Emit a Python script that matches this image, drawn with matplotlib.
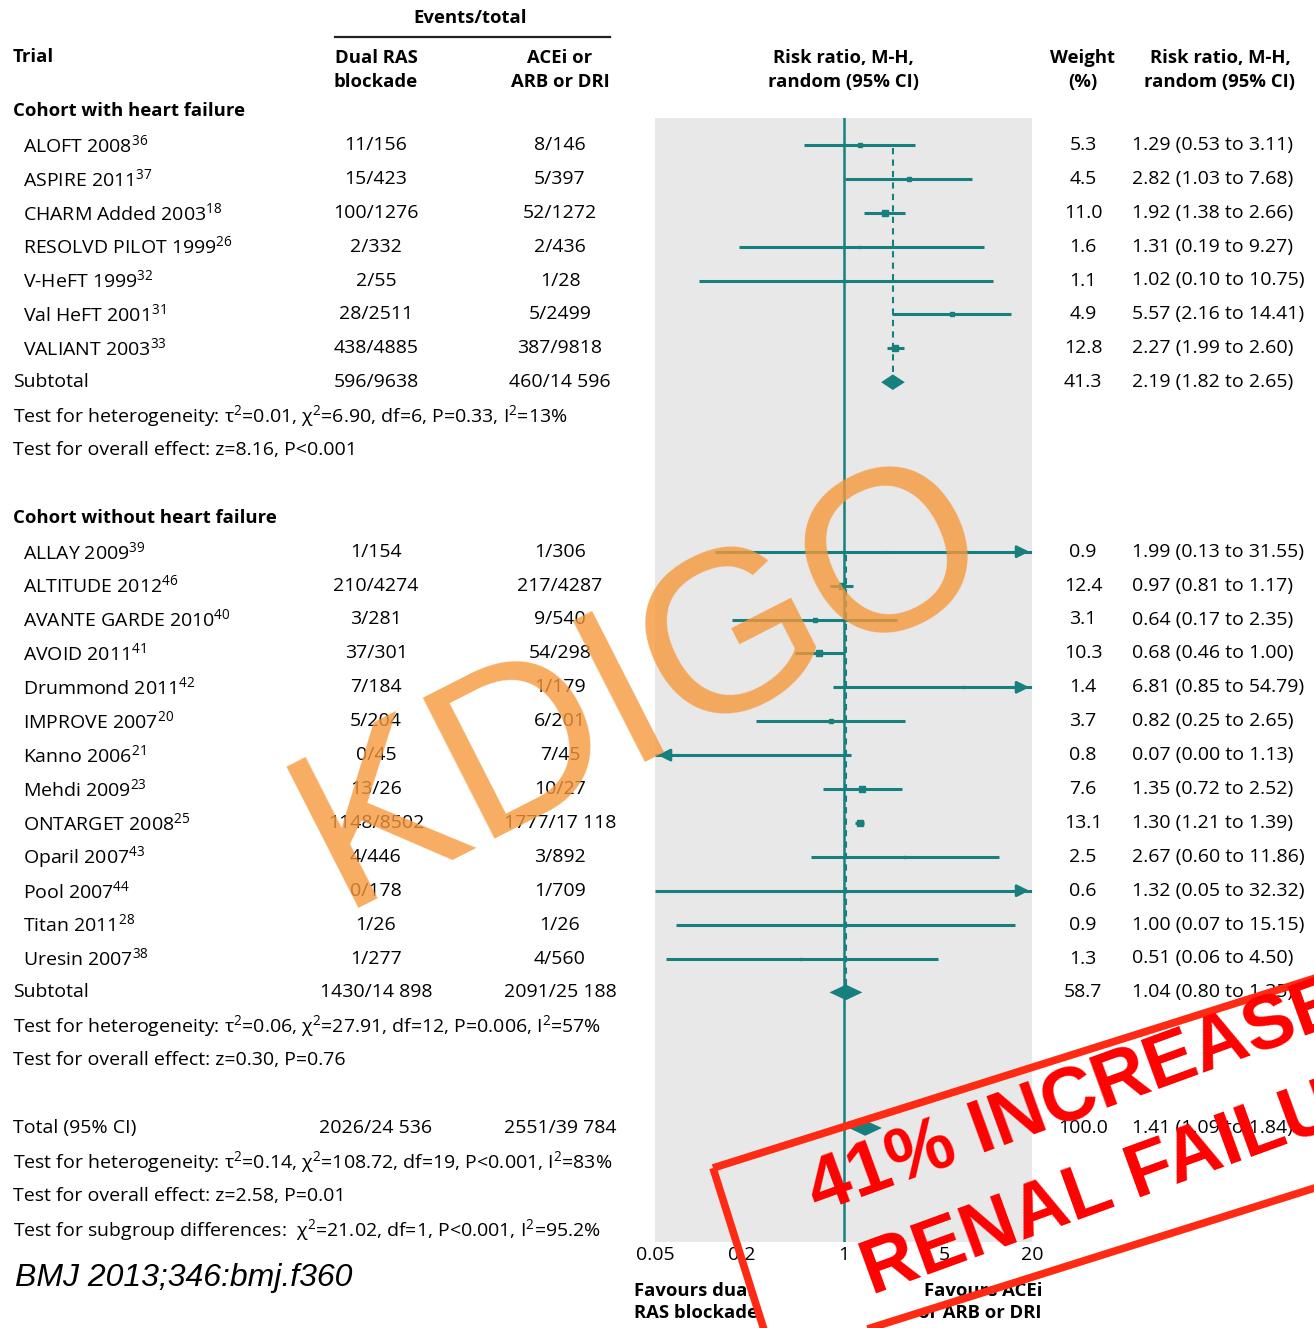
import numpy as np
import matplotlib
matplotlib.use("Agg")
import matplotlib.pyplot as plt
from matplotlib.patches import Rectangle

plt.rcParams['font.family'] = ['Open Sans', 'DejaVu Sans']
plt.rcParams['mathtext.fontset'] = 'custom'
plt.rcParams['mathtext.rm'] = 'Open Sans'
plt.rcParams['mathtext.it'] = 'Open Sans:italic'

# ---- data ----
hf_names = ["ALOFT 2008", "ASPIRE 2011", "CHARM Added 2003", "RESOLVD PILOT 1999",
            "V-HeFT 1999", "Val HeFT 2001", "VALIANT 2003"]
hf_refs = ["36", "37", "18", "26", "32", "31", "33"]
hf_dual = ["11/156", "15/423", "100/1276", "2/332", "2/55", "28/2511", "438/4885"]
hf_ctrl = ["8/146", "5/397", "52/1272", "2/436", "1/28", "5/2499", "387/9818"]
hf_w = [5.3, 4.5, 11.0, 1.6, 1.1, 4.9, 12.8]
hf_rr = [1.29, 2.82, 1.92, 1.31, 1.02, 5.57, 2.27]
hf_lo = [0.53, 1.03, 1.38, 0.19, 0.10, 2.16, 1.99]
hf_hi = [3.11, 7.68, 2.66, 9.27, 10.75, 14.41, 2.60]

nhf_names = ["ALLAY 2009", "ALTITUDE 2012", "AVANTE GARDE 2010", "AVOID 2011",
             "Drummond 2011", "IMPROVE 2007", "Kanno 2006", "Mehdi 2009",
             "ONTARGET 2008", "Oparil 2007", "Pool 2007", "Titan 2011", "Uresin 2007"]
nhf_refs = ["39", "46", "40", "41", "42", "20", "21", "23", "25", "43", "44", "28", "38"]
nhf_dual = ["1/154", "210/4274", "3/281", "37/301", "7/184", "5/204", "0/45", "13/26",
            "1148/8502", "4/446", "0/178", "1/26", "1/277"]
nhf_ctrl = ["1/306", "217/4287", "9/540", "54/298", "1/179", "6/201", "7/45", "10/27",
            "1777/17 118", "3/892", "1/709", "1/26", "4/560"]
nhf_w = [0.9, 12.4, 3.1, 10.3, 1.4, 3.7, 0.8, 7.6, 13.1, 2.5, 0.6, 0.9, 1.3]
nhf_rr = [1.99, 0.97, 0.64, 0.68, 6.81, 0.82, 0.07, 1.35, 1.30, 2.67, 1.32, 1.00, 0.51]
nhf_lo = [0.13, 0.81, 0.17, 0.46, 0.85, 0.25, 0.00, 0.72, 1.21, 0.60, 0.05, 0.07, 0.06]
nhf_hi = [31.55, 1.17, 2.35, 1.00, 54.79, 2.65, 1.13, 2.52, 1.39, 11.86, 32.32, 15.15, 4.50]

# subtotal / total: label, dual, control, weight, rr, lo, hi
summ_labels = ["Subtotal", "Subtotal", "Total (95% CI)"]
summ_dual = ["596/9638", "1430/14 898", "2026/24 536"]
summ_ctrl = ["460/14 596", "2091/25 188", "2551/39 784"]
summ_w = [41.3, 58.7, 100.0]
summ_rr = [2.19, 1.04, 1.41]
summ_lo = [1.82, 0.80, 1.09]
summ_hi = [2.65, 1.35, 1.84]

hf_tests = ["Test for heterogeneity: τ$^{2}$=0.01, χ$^{2}$=6.90, df=6, P=0.33, I$^{2}$=13%",
            "Test for overall effect: z=8.16, P<0.001"]
nhf_tests = ["Test for heterogeneity: τ$^{2}$=0.06, χ$^{2}$=27.91, df=12, P=0.006, I$^{2}$=57%",
             "Test for overall effect: z=0.30, P=0.76"]
tot_tests = ["Test for heterogeneity: τ$^{2}$=0.14, χ$^{2}$=108.72, df=19, P<0.001, I$^{2}$=83%",
             "Test for overall effect: z=2.58, P=0.01",
             "Test for subgroup differences:  χ$^{2}$=21.02, df=1, P<0.001, I$^{2}$=95.2%"]
xticks = [0.05, 0.2, 1, 5, 20]

# ---- layout (pixels) ----
W, H = 1314, 1328
ROW0, DY = 111, 33.9
TEAL = "#17807f"
FS = 14      # regular text
FSB = 13.3   # bold headers

fig = plt.figure(figsize=(W / 100, H / 100), dpi=100)
bg = fig.add_axes([0, 0, 1, 1])
bg.set_xlim(0, W); bg.set_ylim(H, 0); bg.axis("off")

def ry(r):
    return ROW0 + DY * r

# forest axes
top_px, bot_px, l_px, r_px = 118, 1242, 655, 1032
ax = fig.add_axes([l_px / W, 1 - bot_px / H, (r_px - l_px) / W, (bot_px - top_px) / H])
ax.set_facecolor("#e8e8e8")
ax.set_xscale("log")
ax.set_xlim(xticks[0], xticks[-1])
ax.set_ylim((bot_px - ROW0) / DY, (top_px - ROW0) / DY)
for s in ax.spines.values():
    s.set_visible(False)
ax.set_yticks([])
ax.set_xticks(xticks)
ax.set_xticklabels(["0.05", "0.2", "1", "5", "20"])
ax.xaxis.set_minor_locator(matplotlib.ticker.NullLocator())
ax.tick_params(axis="x", length=0, labelsize=FS, pad=3)
ax.axvline(1, color=TEAL, lw=1.8, zorder=2)

def draw_study(row, rr, lo, hi, w):
    xmin, xmax = xticks[0], xticks[-1]
    l = max(lo, xmin) if lo > 0 else xmin
    h = min(hi, xmax)
    ax.plot([l, h], [row, row], color=TEAL, lw=2.2, solid_capstyle="butt", zorder=3)
    if hi > xmax:
        ax.annotate("", xy=(xmax, row), xytext=(xmax * 0.8, row),
                    arrowprops=dict(arrowstyle="-|>", color=TEAL, lw=2, mutation_scale=18), zorder=3)
    if lo < xmin or lo == 0:
        ax.annotate("", xy=(xmin, row), xytext=(xmin * 1.25, row),
                    arrowprops=dict(arrowstyle="-|>", color=TEAL, lw=2, mutation_scale=18), zorder=3)
    ax.plot(rr, row, "s", color=TEAL, ms=1.35 * np.sqrt(w), zorder=4)

def draw_diamond(row, rr, lo, hi):
    ax.fill([lo, rr, hi, rr], [row, row - 0.23, row, row + 0.23], color=TEAL, lw=0, zorder=4)

# ---- headers ----
bold = dict(fontweight="bold", fontsize=FSB)
bg.text(470, 18, "Events/total", ha="center", va="center", **bold)
bg.plot([335, 610], [37, 37], color="#222222", lw=1.6)
bg.text(13, 57, "Trial", ha="left", va="center", **bold)
for x, t in [(376, "Dual RAS\nblockade"), (560, "ACEi or\nARB or DRI"),
             (843, "Risk ratio, M-H,\nrandom (95% CI)"), (1083, "Weight\n(%)"),
             (1220, "Risk ratio, M-H,\nrandom (95% CI)")]:
    bg.text(x, 70, t, ha="center", va="center", linespacing=1.4, **bold)

def row_text(row, name, dual, ctrl, w, rr, lo, hi, indent=True):
    y = ry(row)
    bg.text(23 if indent else 13, y, name, ha="left", va="center", fontsize=FS)
    bg.text(376, y, dual, ha="center", va="center", fontsize=FS)
    bg.text(560, y, ctrl, ha="center", va="center", fontsize=FS)
    bg.text(1083, y, f"{w:.1f}", ha="center", va="center", fontsize=FS)
    bg.text(1132, y, f"{rr:.2f} ({lo:.2f} to {hi:.2f})", ha="left", va="center", fontsize=FS)

# group 1
bg.text(13, ry(0), "Cohort with heart failure", ha="left", va="center", **bold)
for i in range(len(hf_names)):
    r = 1 + i
    row_text(r, f"{hf_names[i]}$^{{{hf_refs[i]}}}$", hf_dual[i], hf_ctrl[i],
             hf_w[i], hf_rr[i], hf_lo[i], hf_hi[i])
    draw_study(r, hf_rr[i], hf_lo[i], hf_hi[i], hf_w[i])
r_sub1 = 1 + len(hf_names)
row_text(r_sub1, summ_labels[0], summ_dual[0], summ_ctrl[0], summ_w[0],
         summ_rr[0], summ_lo[0], summ_hi[0], indent=False)
draw_diamond(r_sub1, summ_rr[0], summ_lo[0], summ_hi[0])
ax.plot([summ_rr[0]] * 2, [1.1, r_sub1 - 0.23], color=TEAL, lw=1.5, ls=(0, (3, 2.5)), zorder=2)
for j, t in enumerate(hf_tests):
    bg.text(13, ry(r_sub1 + 1 + j), t, ha="left", va="center", fontsize=FS)

# group 2
g2 = r_sub1 + 4
bg.text(13, ry(g2), "Cohort without heart failure", ha="left", va="center", **bold)
for i in range(len(nhf_names)):
    r = g2 + 1 + i
    row_text(r, f"{nhf_names[i]}$^{{{nhf_refs[i]}}}$", nhf_dual[i], nhf_ctrl[i],
             nhf_w[i], nhf_rr[i], nhf_lo[i], nhf_hi[i])
    draw_study(r, nhf_rr[i], nhf_lo[i], nhf_hi[i], nhf_w[i])
r_sub2 = g2 + 1 + len(nhf_names)
row_text(r_sub2, summ_labels[1], summ_dual[1], summ_ctrl[1], summ_w[1],
         summ_rr[1], summ_lo[1], summ_hi[1], indent=False)
draw_diamond(r_sub2, summ_rr[1], summ_lo[1], summ_hi[1])
ax.plot([summ_rr[1]] * 2, [g2 + 1.1, r_sub2 - 0.23], color=TEAL, lw=1.5, ls=(0, (3, 2.5)), zorder=2)
for j, t in enumerate(nhf_tests):
    bg.text(13, ry(r_sub2 + 1 + j), t, ha="left", va="center", fontsize=FS)

# total
r_tot = r_sub2 + 4
row_text(r_tot, summ_labels[2], summ_dual[2], summ_ctrl[2], summ_w[2],
         summ_rr[2], summ_lo[2], summ_hi[2], indent=False)
draw_diamond(r_tot, summ_rr[2], summ_lo[2], summ_hi[2])
for j, t in enumerate(tot_tests):
    bg.text(13, ry(r_tot + 1 + j), t, ha="left", va="center", fontsize=FS)

# favours labels + citation
bg.text(634, 1302, "Favours dual\nRAS blockade", ha="left", va="center", linespacing=1.3, **bold)
bg.text(1042, 1302, "Favours ACEi\nor ARB or DRI", ha="right", va="center", multialignment="right",
        linespacing=1.3, **bold)
bg.text(15, 1278, "BMJ 2013;346:bmj.f360", ha="left", va="center", fontsize=23,
        fontstyle="italic", family="Liberation Sans")

# ---- overlays (on top of everything) ----
ov = fig.add_axes([0, 0, 1, 1], zorder=10)
ov.set_xlim(0, W); ov.set_ylim(H, 0); ov.axis("off")

ov.text(670, 740, "KDIGO", ha="center", va="baseline", rotation=27, rotation_mode="anchor",
        fontsize=166, family="Liberation Sans", color="#F5983A", alpha=0.8)

ov.add_patch(Rectangle((713, 1168), 900, 200, angle=-17.5, fill=False, ec="#ff2a14", lw=5.5,
                       clip_on=False))
stamp_kw = dict(ha="left", va="baseline", rotation=20, rotation_mode="anchor", fontsize=54.5,
                fontweight="bold", family="Liberation Sans", color="#ff0000", clip_on=False)
ov.text(818, 1213, "41% INCREASE", **stamp_kw)
ov.text(872, 1295, "RENAL FAILURE", **stamp_kw)

fig.savefig("out.png", dpi=100)
